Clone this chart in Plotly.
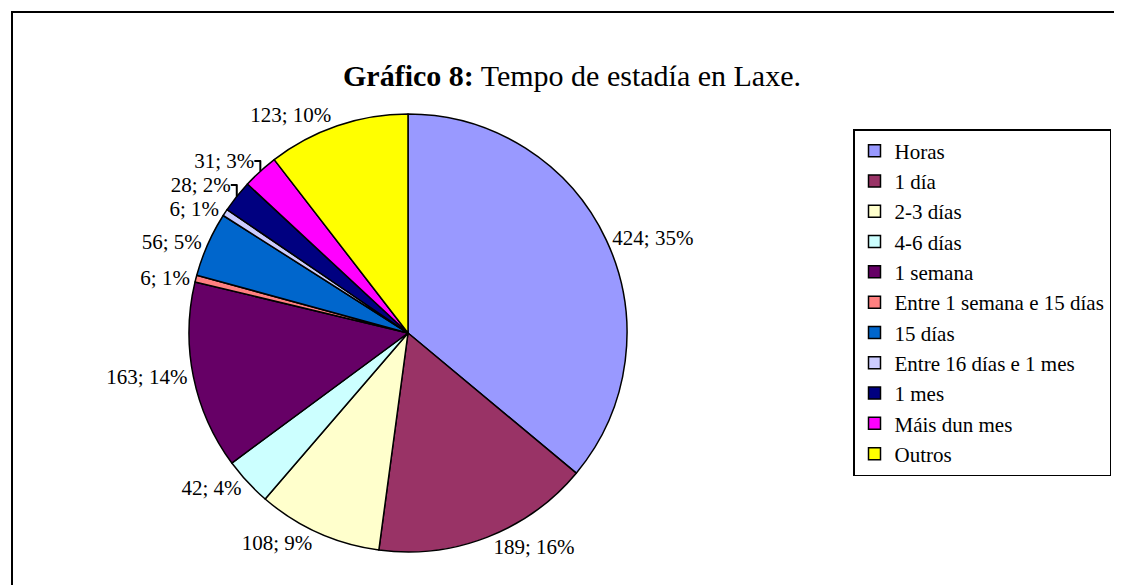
import plotly.graph_objects as go

categories = ["Horas", "1 día", "2-3 días", "4-6 días", "1 semana",
              "Entre 1 semana e 15 días", "15 días", "Entre 16 días e 1 mes",
              "1 mes", "Máis dun mes", "Outros"]
values = [424, 189, 108, 42, 163, 6, 56, 6, 28, 31, 123]
percent_labels = ["35%", "16%", "9%", "4%", "14%", "1%", "5%", "1%", "2%", "3%", "10%"]
colors = ["#9999FF", "#993366", "#FFFFCC", "#CCFFFF", "#660066", "#FF8080",
          "#0066CC", "#CCCCFF", "#000080", "#FF00FF", "#FFFF00"]

OFF = 8  # page body margin
W, H = 1122 - OFF, 585 - OFF
cx, cy, r = 408 - OFF, 333 - OFF, 219

fig = go.Figure(go.Pie(
    labels=categories,
    values=values,
    customdata=percent_labels,
    texttemplate="%{value}; %{customdata}",
    textposition="outside",
    textfont=dict(family="Liberation Serif", size=21, color="black"),
    marker=dict(colors=colors, line=dict(color="black", width=1.5)),
    sort=False,
    direction="clockwise",
    rotation=0,
    hole=0,
    automargin=False,
    domain=dict(x=[(cx - r) / W, (cx + r) / W], y=[1 - (cy + r) / H, 1 - (cy - r) / H]),
))

fig.update_layout(
    width=W, height=H,
    margin=dict(l=0, r=0, t=0, b=0),
    paper_bgcolor="white",
    plot_bgcolor="white",
    font=dict(family="Liberation Serif", color="black"),
    title=dict(text="<b>Gráfico 8:</b> Tempo de estadía en Laxe.",
               x=(572 - OFF) / W, xanchor="center", y=1 - (75 - OFF) / H, yanchor="middle",
               font=dict(family="Liberation Serif", size=30, color="black")),
    legend=dict(x=(853 - OFF) / W, y=1 - (129 - OFF) / H, xanchor="left", yanchor="top",
                bordercolor="black", borderwidth=1.5, bgcolor="white",
                font=dict(family="Liberation Serif", size=21, color="black")),
    shapes=[dict(type="rect", xref="paper", yref="paper",
                 x0=(12 - OFF) / W, x1=1.1, y0=-0.1, y1=1 - (12 - OFF) / H,
                 line=dict(color="black", width=2), fillcolor="rgba(0,0,0,0)",
                 layer="below")],
)

fig.write_html("out.html")
